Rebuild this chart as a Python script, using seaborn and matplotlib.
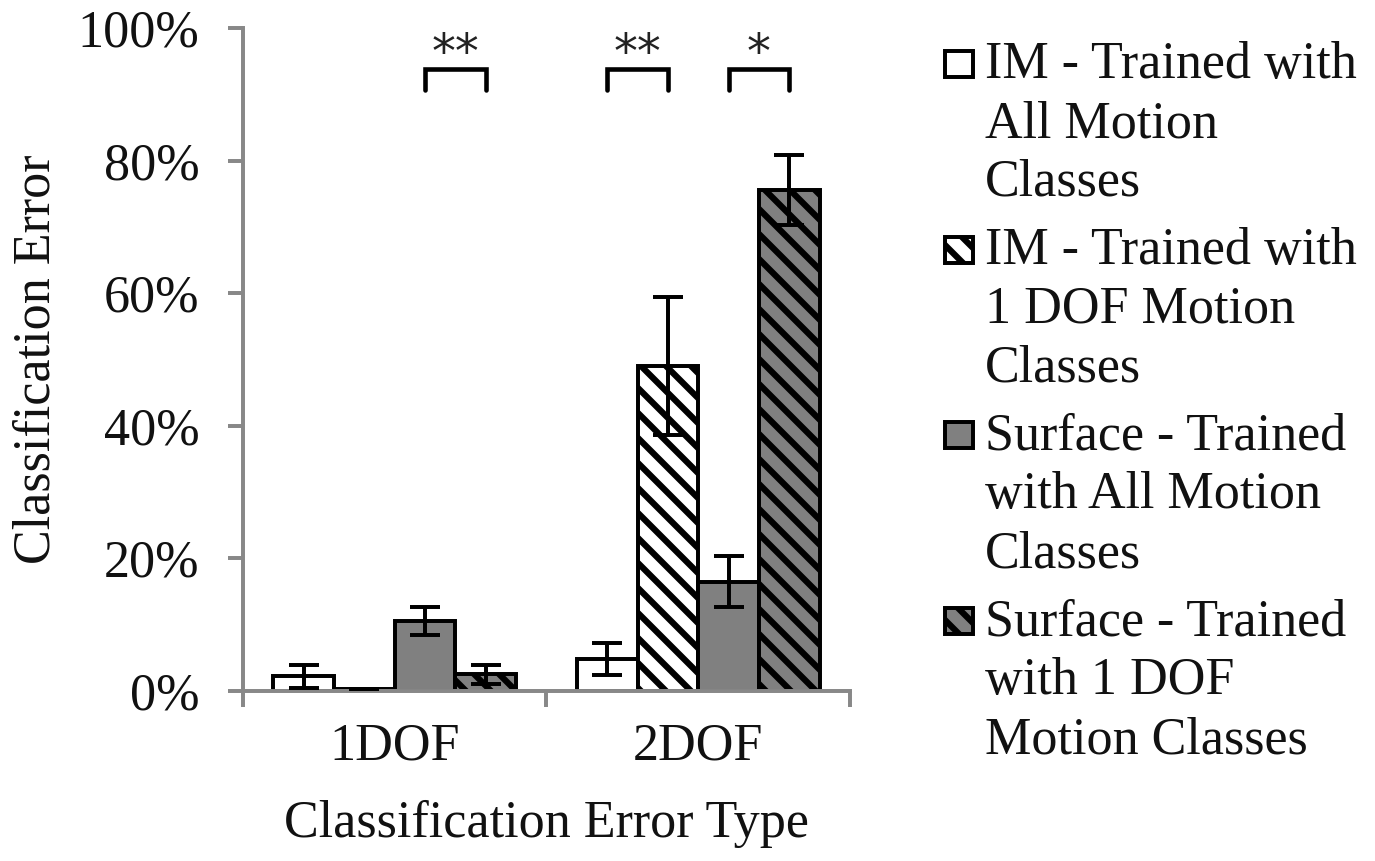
import matplotlib
matplotlib.use("Agg")
import matplotlib.pyplot as plt
from matplotlib.patches import Rectangle
from matplotlib.ticker import PercentFormatter
import numpy as np
import pandas as pd
import seaborn as sns

# ==========================================
# 数据 (从图中读出的近似值, %)
# ==========================================
categories = ["1DOF", "2DOF"]
series_names = [
    "IM - Trained with All Motion Classes",
    "IM - Trained with 1 DOF Motion Classes",
    "Surface - Trained with All Motion Classes",
    "Surface - Trained with 1 DOF Motion Classes",
]
im_all = [2.2, 4.8]
im_all_err = [1.8, 2.4]
im_1dof = [0.3, 49.0]
im_1dof_err = [0.0, 10.4]
surf_all = [10.6, 16.5]
surf_all_err = [2.1, 3.8]
surf_1dof = [2.5, 75.6]
surf_1dof_err = [1.5, 5.3]

legend_lines = [
    ["IM - Trained with", "All Motion", "Classes"],
    ["IM - Trained with", "1 DOF Motion", "Classes"],
    ["Surface - Trained", "with All Motion", "Classes"],
    ["Surface - Trained", "with 1 DOF", "Motion Classes"],
]
y_ticks = [0, 20, 40, 60, 80, 100]

# 显著性标注: (类别, 柱 a, 柱 b, 星号)
sig_marks = [(0, 2, 3, "**"), (1, 0, 1, "**"), (1, 2, 3, "*")]

# ==========================================
# 样式
# ==========================================
fills = ["white", "white", "#808080", "#808080"]
hatches = ["", "\\\\", "", "\\\\"]
spine_gray = "#888888"

sns.set_style("ticks")
plt.rcParams["font.family"] = ["Liberation Serif", "DejaVu Serif"]
plt.rcParams["hatch.linewidth"] = 3.0
plt.rcParams["hatch.color"] = "black"

means = [im_all, im_1dof, surf_all, surf_1dof]
errs = [im_all_err, im_1dof_err, surf_all_err, surf_1dof_err]
df = pd.DataFrame({
    "type": np.tile(categories, len(series_names)),
    "series": np.repeat(series_names, len(categories)),
    "error": np.concatenate(means),
})

fig = plt.figure(figsize=(1375 / 150, 861 / 150), dpi=150)
ax = fig.add_axes([0.1767, 0.1974, 0.4415, 0.7701])

sns.barplot(data=df, x="type", y="error", hue="series", order=categories,
            hue_order=series_names, palette=fills, edgecolor="black",
            linewidth=1.9, errorbar=None, legend=False, width=0.8, ax=ax)

bar_conts = list(ax.containers)
centers = []
for i, cont in enumerate(bar_conts):
    xs = []
    for bar in cont:
        bar.set_facecolor(fills[i])
        bar.set_hatch(hatches[i])
        bar.set_edgecolor("black")
        xs.append(bar.get_x() + bar.get_width() / 2)
    centers.append(xs)
    heights = [b.get_height() for b in cont]
    ax.errorbar(xs, heights, yerr=errs[i], fmt="none", ecolor="black",
                elinewidth=1.9, capsize=7, capthick=1.9, zorder=3)

# 显著性括号
for cat, a, b, star in sig_marks:
    x1, x2 = centers[a][cat], centers[b][cat]
    ax.plot([x1, x1, x2, x2], [90.6, 93.8, 93.8, 90.6], color="black",
            lw=2.2, solid_joinstyle="miter", clip_on=False, zorder=4)
    ax.text((x1 + x2) / 2, 92.4, star, ha="center", va="bottom",
            fontsize=23, color="#222222", family="DejaVu Sans")

ax.set_xlim(-0.5, 1.5)
ax.set_ylim(0, 100)
ax.set_yticks(y_ticks)
ax.yaxis.set_major_formatter(PercentFormatter(xmax=100, decimals=0))
ax.set_xticks([0, 1])
ax.set_xticklabels(categories)
ax.set_xticks([-0.5, 0.5, 1.5], minor=True)

ax.tick_params(axis="y", length=7, width=1.9, color=spine_gray,
               labelsize=25, pad=14, labelcolor="#111111")
ax.tick_params(axis="x", which="major", length=0, labelsize=25, pad=15,
               labelcolor="#111111")
ax.tick_params(axis="x", which="minor", length=7.5, width=1.9,
               color=spine_gray, direction="out")

sns.despine(ax=ax)
for side in ["left", "bottom"]:
    ax.spines[side].set_color(spine_gray)
    ax.spines[side].set_linewidth(1.9)

ax.set_ylabel("Classification Error", fontsize=25, color="#111111")
ax.set_xlabel("Classification Error Type", fontsize=25, color="#111111")
ax.yaxis.set_label_coords(-0.30, 0.5)
ax.xaxis.set_label_coords(0.5, -0.165)

# 图例 (手工排版, 方块对齐第一行)
W, H = 1375, 861
for i, lines in enumerate(legend_lines):
    base = 78 + 185.7 * i
    fig.add_artist(Rectangle((945 / W, 1 - (base - 1) / H), 28 / W, 26 / H,
                             transform=fig.transFigure, facecolor=fills[i],
                             edgecolor="black", linewidth=1.9,
                             hatch=hatches[i]))
    for j, line in enumerate(lines):
        fig.text(985 / W, 1 - (base + 59 * j) / H, line, fontsize=25,
                 ha="left", va="baseline", color="#111111")

fig.savefig("out.png", dpi=150, facecolor="white")
